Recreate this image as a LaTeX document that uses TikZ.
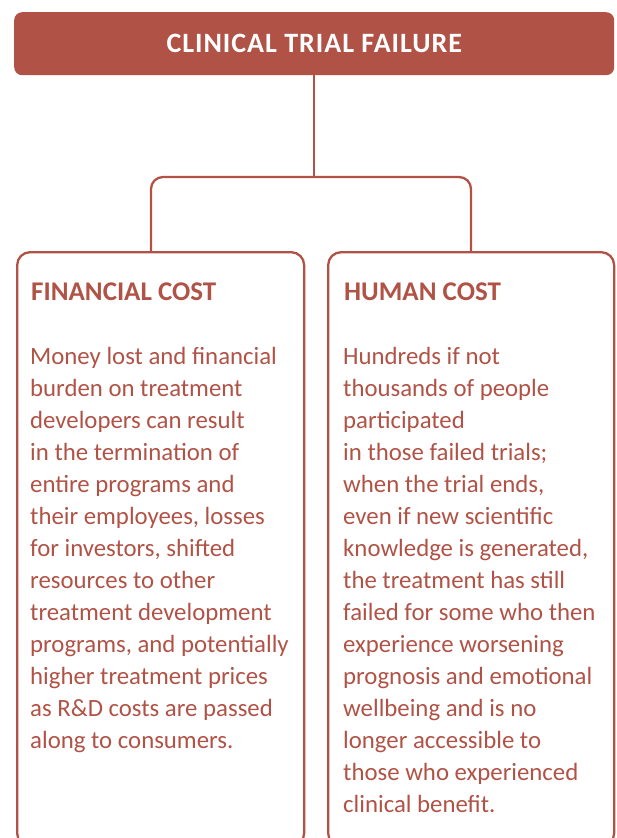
\documentclass[tikz,border=0pt]{standalone}
\usepackage{fontspec}
\setmainfont{Carlito}
\usepackage{xcolor}
\usetikzlibrary{positioning}

\definecolor{brick}{RGB}{176,83,70}

\begin{document}
\begin{tikzpicture}[
      x=1pt, y=-1pt,
      titlebox/.style={
         rectangle,
         rounded corners=8pt,
         fill=brick,
         text=white,
         minimum width=600pt,
         minimum height=63pt,
         font=\fontsize{28}{30}\selectfont\bfseries\addfontfeature{LetterSpace=3.5}},
      costbox/.style={
         rectangle,
         rounded corners=13pt,
         draw=brick,
         line width=2.3pt,
         minimum height=594pt},
      heading/.style={
         text=brick,
         inner sep=0pt,
         font=\fontsize{27}{30}\selectfont\bfseries},
      bodytext/.style={
         text=brick,
         inner sep=0pt,
         align=left,
         font=\fontsize{24.8}{32}\selectfont},
      link/.style={draw=brick, line width=2.3pt, rounded corners=12pt}
      ]
\clip (0,0) rectangle (616,838);

\node[titlebox, anchor=north west] (ttl) at (14,12) {CLINICAL TRIAL FAILURE};

\node[costbox, minimum width=287pt, anchor=north west] (fin) at (16,251) {};
\node[costbox, minimum width=286pt, anchor=north west] (hum) at (327,251) {};

% branch points on the two boxes
\coordinate (finTop) at (151,251);
\coordinate (humTop) at (471,251);
\coordinate (fork) at (ttl.south |- 0,177);

\draw[link] (ttl.south) -- (fork);
\draw[link] (finTop) |- (humTop |- fork) -- (humTop);

\node[heading, anchor=base west] (finHead) at (31,300) {FINANCIAL COST};
\node[heading, anchor=base west] (humHead) at (344,300) {HUMAN COST};

% text blocks: \strut keeps the first baseline 22.4pt under the top
\node[bodytext, anchor=north west] (finText) at (30,341.6) {%
\strut Money lost and financial\\
burden on treatment\\
developers can result\\
in the termination of\\
entire programs and\\
their employees, losses\\
for investors, shifted\\
resources to other\\
treatment development\\
programs, and potentially\\
higher treatment prices\\
as R\&D costs are passed\\
along to consumers.};

\node[bodytext, anchor=north west] (humText) at (343,341.6) {%
\strut Hundreds if not\\
thousands of people\\
participated\\
in those failed trials;\\
when the trial ends,\\
even if new scientific\\
knowledge is generated,\\
the treatment has still\\
failed for some who then\\
experience worsening\\
prognosis and emotional\\
wellbeing and is no\\
longer accessible to\\
those who experienced\\
clinical benefit.};

\end{tikzpicture}
\end{document}
